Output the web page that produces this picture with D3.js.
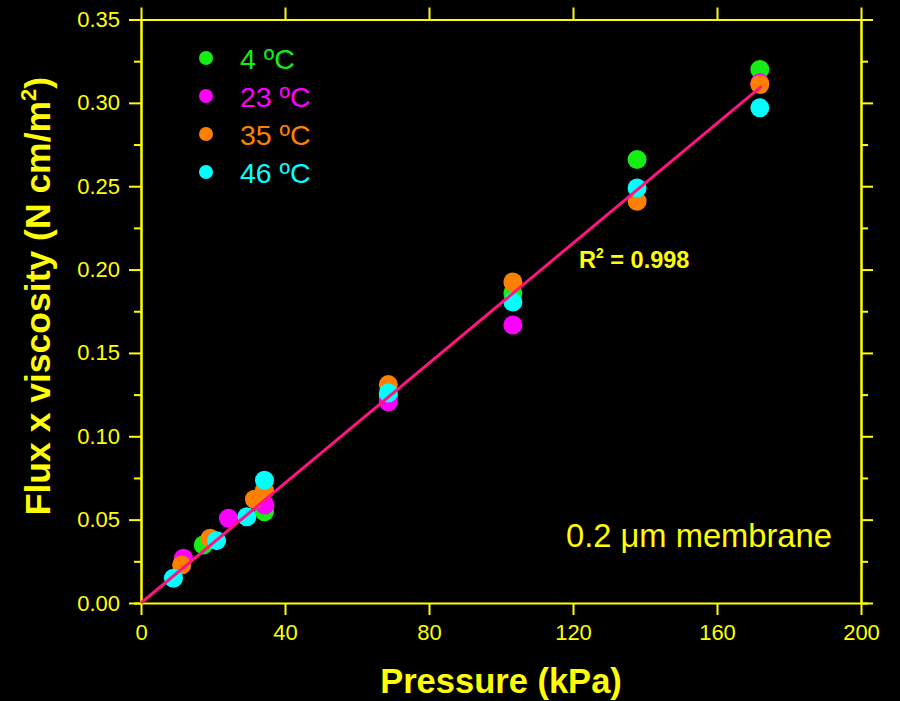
<!DOCTYPE html>
<html>
<head>
<meta charset="utf-8">
<script src="https://cdn.jsdelivr.net/npm/d3@7"></script>
<style>
  html, body { margin: 0; padding: 0; background: #000; }
  svg { display: block; }
  text { font-family: "Liberation Sans", Arial, sans-serif; }
</style>
</head>
<body>
<svg id="chart" width="900" height="701"></svg>
<script>
// Flux x viscosity against transmembrane pressure, 0.2 µm membrane
const seriesNames = ["4 ºC", "23 ºC", "35 ºC", "46 ºC"];
const seriesColors = ["#14ee14", "#ff00ff", "#ff8000", "#00ffff"];

const pressure4 = [17.3, 34.3, 68.7, 103.3, 137.8, 171.9];
const flux4 = [0.0348, 0.0547, 0.124, 0.186, 0.266, 0.320];

const pressure23 = [11.8, 24.3, 34.4, 68.7, 103.3, 171.9];
const flux23 = [0.0268, 0.0508, 0.0588, 0.1207, 0.1667, 0.312];

const pressure35 = [11.3, 19.2, 31.5, 34.3, 68.7, 103.3, 137.8, 171.9];
const flux35 = [0.0228, 0.0388, 0.0622, 0.0677, 0.131, 0.1926, 0.241, 0.311];

const pressure46 = [9.0, 21.0, 29.4, 34.3, 68.7, 103.3, 137.8, 171.9];
const flux46 = [0.0148, 0.0374, 0.0517, 0.0737, 0.126, 0.1806, 0.249, 0.297];

// Linear fit through the origin
const fitPressure = [0, 172.4];
const fitFlux = [0, 0.3100];
const fitLabel = "0.998";

const xTicks = [0, 40, 80, 120, 160, 200];
const yTicks = [0, 0.05, 0.10, 0.15, 0.20, 0.25, 0.30, 0.35];
const yMinorTicks = [0.025, 0.075, 0.125, 0.175, 0.225, 0.275, 0.325];

const series = [
  { x: pressure4, y: flux4 },
  { x: pressure23, y: flux23 },
  { x: pressure35, y: flux35 },
  { x: pressure46, y: flux46 }
];

const yellow = "#ffff00";
const svg = d3.select("#chart");
svg.append("rect").attr("width", 900).attr("height", 701).attr("fill", "#000");

const plotLeft = 141, plotRight = 861, plotTop = 19.5, plotBottom = 603;
const x = d3.scaleLinear().domain([0, 200]).range([plotLeft, plotRight]);
const y = d3.scaleLinear().domain([0, 0.35]).range([plotBottom, plotTop]);

function styleAxis(g) {
  g.selectAll("path").attr("stroke", yellow).attr("stroke-width", 2);
  g.selectAll("line").attr("stroke", yellow).attr("stroke-width", 2);
  g.selectAll("text").attr("fill", yellow)
    .style("font-family", '"Liberation Sans", Arial, sans-serif')
    .style("font-size", "22px");
}

// minor ticks (left and right)
svg.append("g").attr("transform", `translate(${plotLeft},0)`)
  .call(d3.axisLeft(y).tickValues(yMinorTicks).tickSize(7).tickFormat(""))
  .call(styleAxis);
svg.append("g").attr("transform", `translate(${plotRight},0)`)
  .call(d3.axisRight(y).tickValues(yMinorTicks).tickSize(7).tickFormat(""))
  .call(styleAxis);

// major axes
svg.append("g").attr("transform", `translate(0,${plotBottom})`)
  .call(d3.axisBottom(x).tickValues(xTicks).tickSize(12).tickSizeOuter(0).tickPadding(9).tickFormat(d3.format("d")))
  .call(styleAxis);
svg.append("g").attr("transform", `translate(0,${plotTop})`)
  .call(d3.axisTop(x).tickValues(xTicks).tickSize(12).tickSizeOuter(0).tickFormat(""))
  .call(styleAxis);
svg.append("g").attr("transform", `translate(${plotLeft},0)`)
  .call(d3.axisLeft(y).tickValues(yTicks).tickSize(12).tickSizeOuter(0).tickPadding(9).tickFormat(d3.format(".2f")))
  .call(styleAxis);
svg.append("g").attr("transform", `translate(${plotRight},0)`)
  .call(d3.axisRight(y).tickValues(yTicks).tickSize(12).tickSizeOuter(0).tickFormat(""))
  .call(styleAxis);

// data points, coolest first
series.forEach((s, i) => {
  svg.append("g").selectAll("circle")
    .data(s.x.map((v, j) => [v, s.y[j]]))
    .join("circle")
    .attr("cx", d => x(d[0]))
    .attr("cy", d => y(d[1]))
    .attr("r", 9.5)
    .attr("fill", seriesColors[i]);
});

// fit line
svg.append("path")
  .datum(fitPressure.map((v, j) => [v, fitFlux[j]]))
  .attr("d", d3.line().x(d => x(d[0])).y(d => y(d[1])))
  .attr("stroke", "#ff1482")
  .attr("stroke-width", 3)
  .attr("fill", "none");

// legend
const legend = svg.append("g");
seriesNames.forEach((name, i) => {
  const cy = 58 + i * 38;
  legend.append("circle").attr("cx", 206).attr("cy", cy).attr("r", 7).attr("fill", seriesColors[i]);
  legend.append("text").attr("x", 240).attr("y", cy + 11)
    .attr("fill", seriesColors[i]).style("font-size", "28.5px").text(name);
});

// R² annotation
const r2 = svg.append("text").attr("x", 579).attr("y", 267.5)
  .attr("fill", yellow).style("font-size", "23.5px").style("font-weight", "bold");
r2.append("tspan").text("R");
r2.append("tspan").attr("dy", -9.5).style("font-size", "14px").text("2");
r2.append("tspan").attr("dy", 9.5).text(" = " + fitLabel);

// membrane note
svg.append("text").attr("x", 566).attr("y", 547)
  .attr("fill", yellow).style("font-size", "32.7px").text("0.2 μm membrane");

// axis titles
svg.append("text").attr("x", 501).attr("y", 693).attr("text-anchor", "middle")
  .attr("fill", yellow).style("font-size", "34.5px").style("font-weight", "bold")
  .text("Pressure (kPa)");

const yTitle = svg.append("text")
  .attr("transform", "translate(50,296) rotate(-90)")
  .attr("text-anchor", "middle")
  .attr("fill", yellow).style("font-size", "35.5px").style("font-weight", "bold");
yTitle.append("tspan").text("Flux x viscosity (N cm/m");
yTitle.append("tspan").attr("dy", -14).style("font-size", "22px").text("2");
yTitle.append("tspan").attr("dy", 14).text(")");
</script>
</body>
</html>
